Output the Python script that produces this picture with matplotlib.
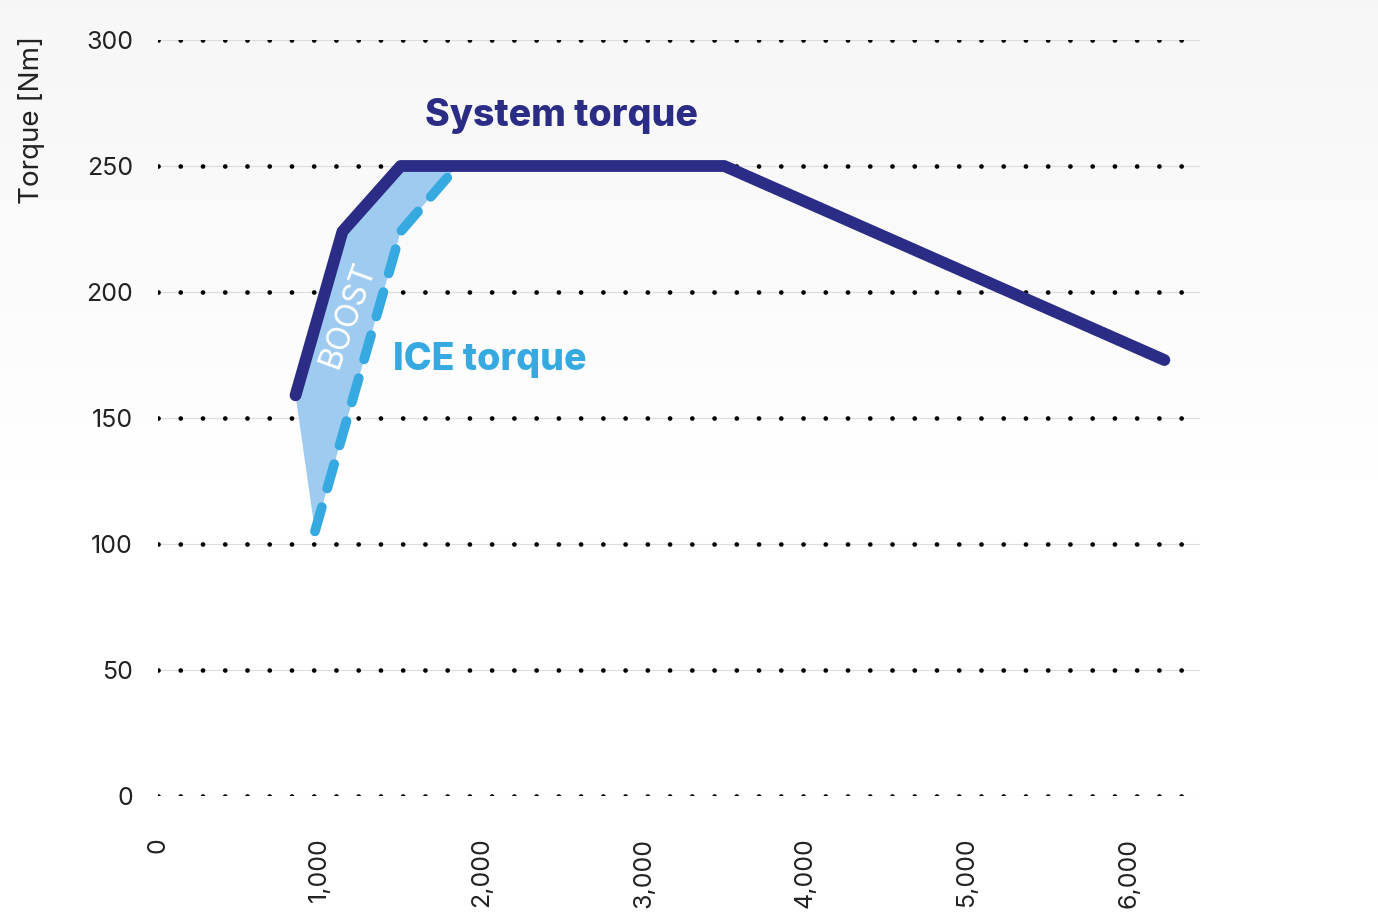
import numpy as np
import matplotlib
matplotlib.use("Agg")
import matplotlib.pyplot as plt

# data (rpm, Nm)
system_rpm = [850, 1140, 1500, 3500, 6220]
system_nm = [159, 224, 250, 250, 173]
ice_rpm = [970, 1500, 1850]
ice_nm = [105, 224, 250]
y_ticks = [0, 50, 100, 150, 200, 250, 300]
x_ticks = [0, 1000, 2000, 3000, 4000, 5000, 6000]
x_labels = ["0", "1,000", "2,000", "3,000", "4,000", "5,000", "6,000"]

navy = "#2b2c85"
blue = "#36a9e1"
fill_col = "#9ecbef"

plt.rcParams["font.family"] = ["Inter", "DejaVu Sans"]

fig = plt.figure(figsize=(13.78, 9.21), dpi=100)

# soft grey gradient in the background
bg = fig.add_axes([0, 0, 1, 1], zorder=-10)
grad = np.linspace(0, 1, 256)[:, None]
grad = np.clip(1 - grad / 0.55, 0, 1)
bg.imshow(grad, aspect="auto", cmap="Greys", vmin=0, vmax=14, extent=[0, 1, 0, 1])
bg.axis("off")

ax = fig.add_axes([158 / 1378, 125 / 921, (1200 - 158) / 1378, (796 - 40) / 921])
ax.patch.set_alpha(0)
ax.set_xlim(0, 6440)
ax.set_ylim(0, 300)

for y in y_ticks:
    ax.axhline(y, color="#dddddd", lw=0.8, zorder=1)
    ax.axhline(y, color="black", lw=3.4, linestyle=(0, (0.01, 4.7)),
               dash_capstyle="round", zorder=1.5)

# boost area between system and ICE curves
poly_x = system_rpm[:3] + [ice_rpm[-1]] + ice_rpm[::-1]
poly_y = system_nm[:3] + [250] + ice_nm[::-1]
ax.fill(poly_x, poly_y, color=fill_col, lw=0, zorder=2)

ax.plot(ice_rpm + [2200], ice_nm + [250], color=blue, lw=7,
        linestyle=(0, (2.6, 2.0)), dash_capstyle="round", zorder=3)
ax.plot(system_rpm, system_nm, color=navy, lw=8.5,
        solid_capstyle="round", solid_joinstyle="round", zorder=4)

ax.text(1650, 270, "System torque", color=navy, fontsize=27, fontweight="heavy",
        ha="left", va="center")
ax.text(1450, 173, "ICE torque", color=blue, fontsize=27, fontweight="heavy",
        ha="left", va="center")
ax.text(1175, 191, "BOOST", color="white", fontsize=23, rotation=70,
        ha="center", va="center", zorder=5)

ax.set_yticks(y_ticks)
ax.set_yticklabels([str(v) for v in y_ticks], fontsize=18, color="#222222")
ax.set_xticks(x_ticks)
ax.set_xticklabels(x_labels, fontsize=18, color="#222222", rotation=90, va="top")
ax.tick_params(axis="y", length=0, pad=18)
ax.tick_params(axis="x", length=0, pad=30)
for s in ax.spines.values():
    s.set_visible(False)

fig.text(32 / 1378, 1 - 120 / 921, "Torque [Nm]", rotation=90, fontsize=20,
         ha="center", va="center", color="#222222")

fig.savefig("out.png", dpi=100)
